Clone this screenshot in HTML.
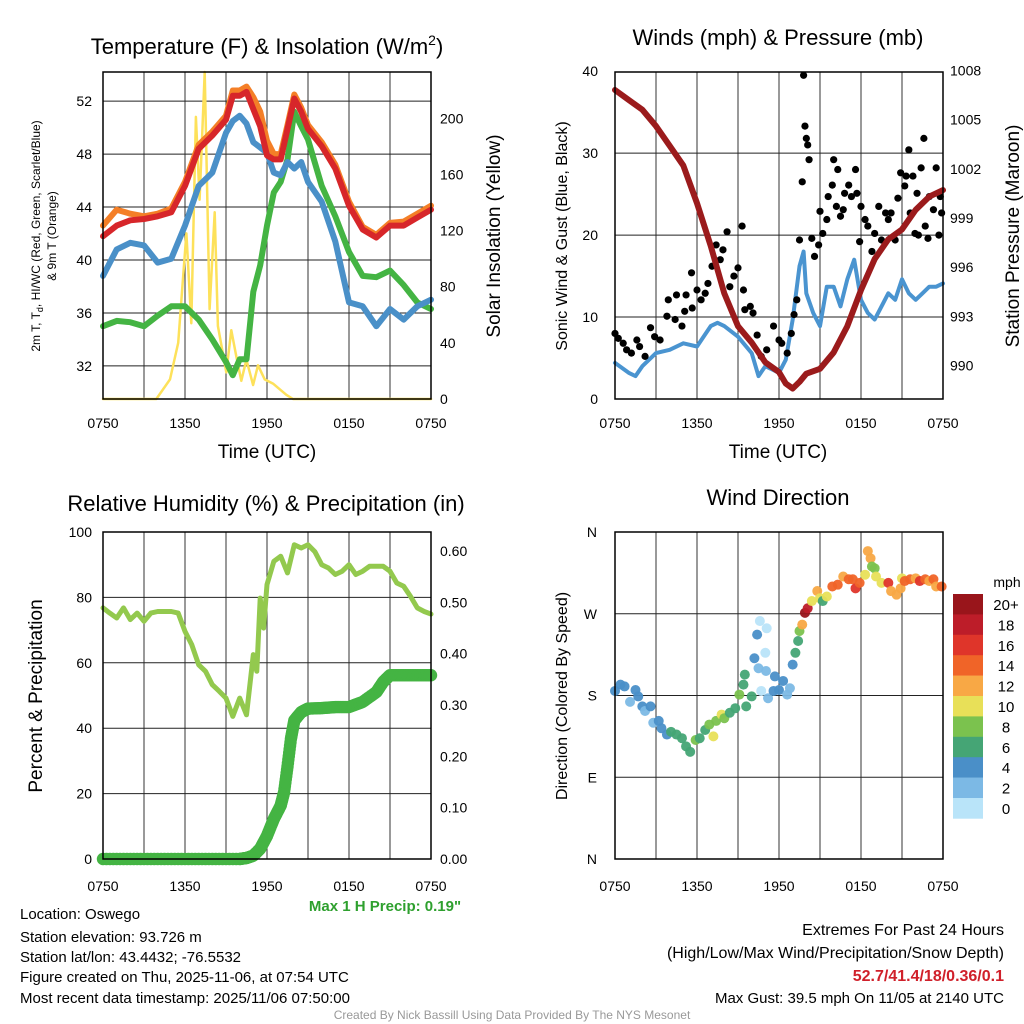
<!DOCTYPE html>
<html><head><meta charset="utf-8"><style>
html,body{margin:0;padding:0;background:#fff;}
svg{display:block;font-family:"Liberation Sans",Arial,sans-serif;}
</style></head><body>
<svg id="chart" width="1024" height="1024" viewBox="0 0 1024 1024"></svg>
<script>
// ---------- DATA ----------
const xTickLabels = ["0750","1350","1950","0150","0750"];
const tempHours = [0,1,2,3,4,5,6,7,8,9,9.5,10,10.5,11,11.5,12,12.5,13,13.5,14,14.5,15,16,17,18,19,20,21,22,23,24];
const tempRed = [41.8,42.6,43.0,43.1,43.3,43.6,45.6,48.4,49.4,50.6,52.4,52.4,52.7,51.4,50.1,47.9,47.6,47.6,49.9,52.2,51.2,49.9,48.6,46.9,44.1,42.3,41.7,42.6,42.6,43.2,43.8];
const tempOrange = [42.6,43.8,43.5,43.3,43.5,43.9,45.9,48.7,49.7,50.9,52.8,52.8,53.1,52.3,51.2,49.0,48.0,48.0,50.2,52.5,51.5,50.2,48.9,47.2,44.4,42.5,41.9,42.8,42.9,43.5,44.1];
const tempBlue = [38.8,40.8,41.3,41.1,39.8,40.1,42.6,45.6,46.6,49.6,50.5,50.9,50.3,48.9,48.5,48.1,46.6,46.4,47.4,46.9,47.4,45.9,44.4,41.4,36.8,36.5,35.0,36.3,35.5,36.5,37.0];
const tempGreen = [35.0,35.4,35.3,35.0,35.8,36.5,36.5,35.5,34.0,32.3,31.3,32.5,32.5,37.6,39.6,42.6,45.1,45.9,47.6,51.2,50.1,49.1,45.6,43.3,40.6,38.8,38.7,39.2,38.1,36.8,36.3];
const insolHours = [0,3.9,4.9,5.5,5.85,6.1,6.46,6.8,7.07,7.44,7.8,8.17,8.41,9.02,9.39,9.76,10.12,10.49,10.98,11.34,11.83,12.44,13.41,13.9,24];
const insolValues = [0,0,14,40,85,118,54,201,142,233,64,133,52,19,49,30,13,28,10,24,14,11,3,0,0];
const tempTicks = [32,36,40,44,48,52];
const insolTicks = [0,40,80,120,160,200];

const windHours = [0,1,1.5,2,3,4,5,6,7,7.5,8,9,10,10.5,11,11.5,12,12.5,13,13.5,13.8,14,14.5,15,15.5,16,16.5,17,17.5,18,18.5,19,19.5,20,20.5,21,21.5,22,22.5,23,23.5,24];
const windSpeed = [4.4,3.2,2.8,4.0,5.6,6.0,6.8,6.4,8.9,9.3,8.9,7.6,5.6,2.8,4.0,3.6,3.2,4.8,9.7,16.2,18,12.9,10.5,8.9,13.7,13.7,11.3,14.6,17,12.1,10.5,9.7,11.3,12.9,12.1,14.6,12.9,12.1,12.9,13.7,13.7,14.1];
const gustHours = [0,0.24,0.6,0.85,1.2,1.6,1.8,2.2,2.6,2.9,3.3,3.8,3.9,4.4,4.5,4.9,5.1,5.2,5.6,5.65,6.0,6.3,6.6,6.8,7.1,7.4,7.7,7.9,8.2,8.4,8.7,9.0,9.3,9.4,9.5,9.9,10.1,10.4,10.7,11.1,11.6,12.0,12.2,12.6,12.9,13.1,13.3,13.5,13.7,13.8,13.9,14.0,14.1,14.2,14.4,14.6,14.9,15.0,15.2,15.5,15.6,15.9,16.0,16.2,16.3,16.5,16.7,16.8,17.1,17.3,17.6,17.7,17.9,18.0,18.3,18.5,18.8,19.0,19.3,19.5,19.8,20.0,20.2,20.5,20.7,20.9,21.2,21.3,21.5,21.6,21.8,21.95,22.1,22.2,22.4,22.6,22.7,22.9,23.0,23.3,23.5,23.7,23.8,23.9];
const gustValues = [8.0,7.4,6.8,6.0,5.6,7.2,6.4,5.2,8.7,7.6,7.2,10.1,12.1,9.7,12.7,8.9,10.7,12.7,15.4,11.1,13.3,12.1,12.9,14.1,16.2,18.8,17,18.2,20.4,13.7,15,16,21.1,13.3,10.9,11.3,10.5,7.8,5.2,6.0,8.9,7.2,6.8,5.6,8.0,10.3,12.1,19.4,26.5,39.5,33.3,31.8,31,29.2,19.6,17.4,18.8,22.9,20.2,21.9,24.7,26.1,29.2,23.5,28,22.3,23.1,25.1,26.1,24.7,28,25.1,19.2,23.5,21.9,21.1,18,20.2,23.5,19.4,22.7,21.9,22.7,19.4,24.5,27.6,26.0,27.2,30.4,22.7,27.2,20.2,25.1,20,28.2,31.8,21.1,19.6,24.7,23.1,28.2,20,24.7,22.7];
const presHours = [0,1,2,3,4,5,6,7,8,9,10,11,12,12.5,13,13.5,14,15,16,17,18,19,20,21,22,23,24];
const presValues = [1006.8,1006.2,1005.6,1004.6,1003.4,1002.2,999.9,997.3,994.4,992.4,991.4,990.2,989.6,988.9,988.6,989.0,989.5,989.8,990.8,992.4,994.6,996.5,997.7,998.3,999.5,1000.3,1000.7];
const windTicks = [0,10,20,30,40];
const presTicks = [990,993,996,999,1002,1005,1008];

const rhHours = [0,0.5,1,1.5,2,2.5,3,3.5,4,5,5.5,6,6.5,7,7.5,8,8.5,9,9.5,10,10.5,11,11.25,11.5,11.75,12,12.5,13,13.5,14,14.5,15,15.5,16,16.5,17,17.5,18,18.5,19,19.5,20,20.5,21,21.5,22,22.5,23,23.5,24];
const rhValues = [76.8,75.2,73.7,76.8,73.2,75.2,72.7,75.2,75.7,75.7,75.2,69.6,65.5,59.4,57.4,53.3,51.3,49.2,43.6,49.2,44.1,62.5,57.4,79.8,70.6,83.9,91,92.6,87.5,96.1,95.1,96.1,94,90,89,87,88,90,87,88,89.5,89.5,89.5,88,84.4,83.4,80.3,76.8,75.7,74.9];
const precipHours = [0,2,4,6,8,10,10.5,11,11.5,12,12.5,13,13.25,13.5,13.75,14,14.5,15,16,17,18,19,20,20.5,21,22,23,24];
const precipValues = [0,0,0,0,0,0,0.002,0.0065,0.02,0.045,0.078,0.104,0.13,0.18,0.234,0.27,0.286,0.293,0.294,0.296,0.296,0.306,0.325,0.345,0.358,0.358,0.358,0.358];
const rhTicks = [0,20,40,60,80,100];
const precipTicks = ["0.00","0.10","0.20","0.30","0.40","0.50","0.60"];

const dirHours = [0,0.4,0.7,1.1,1.5,1.7,2,2.2,2.6,2.8,3.2,3.4,3.8,4.1,4.5,4.9,5.2,5.5,5.9,6.2,6.6,6.9,7.2,7.4,7.8,8,8.4,8.8,9.1,9.4,9.5,9.6,10,10.2,10.4,10.5,10.6,10.7,11,11.1,11.05,11.2,11.6,11.7,12,12.3,12.6,12.8,13,13.2,13.4,13.5,13.7,13.9,14.1,14.4,14.8,15,15.2,15.5,15.9,16.3,16.7,17.1,17.4,17.6,17.9,18.3,18.5,18.7,18.8,19,19.1,19.5,20,20.2,20.6,20.9,21,21.2,21.6,22,22.3,22.7,23,23.3,23.5,23.9];
const dirDegrees = [185,192,190,173,186,179,168,163,168,150,152,144,137,140,137,133,124,118,131,133,142,148,135,152,159,155,161,166,181,192,203,168,179,221,247,210,262,185,227,254,207,177,185,201,186,196,181,188,214,227,240,251,258,271,276,284,295,287,284,289,300,302,311,308,308,298,304,313,339,331,322,320,311,304,304,295,291,298,309,306,308,309,306,308,306,308,300,300];
const dirSpeeds = [4,4,4,2,4,4,4,2,4,2,4,4,4,6,6,6,6,6,8,6,6,8,10,8,10,8,6,6,8,6,6,6,6,4,4,2,0,0,0,0,2,2,4,4,4,4,2,2,4,6,6,8,12,20,18,10,12,10,6,10,14,14,12,14,14,16,14,10,12,12,8,8,10,10,16,12,12,12,10,14,14,12,16,14,12,14,12,14];
const dirTickLabels = ["N","E","S","W","N"];
const speedBinLabels = ["0","2","4","6","8","10","12","14","16","18","20+"];
const speedBinColors = ["#b9e4f9","#7cb9e5","#4a8fc8","#45a575","#7bc24e","#e8e058","#f8a845","#f06428","#df352a","#bd1d29","#99151b"];

// ---------- DRAWING ----------
const svg = document.getElementById('chart');
const NS = 'http://www.w3.org/2000/svg';
function mk(tag, attrs, parent) {
  const e = document.createElementNS(NS, tag);
  for (const k in attrs) e.setAttribute(k, attrs[k]);
  (parent || svg).appendChild(e);
  return e;
}
function txt(x, y, s, size, anchor, parent, extra) {
  const t = mk('text', Object.assign({x: x, y: y, 'font-size': size, 'text-anchor': anchor || 'middle', fill: '#000'}, extra || {}), parent);
  t.textContent = s;
  return t;
}
const PW = 328, PH = 327;
function panel(x0, y0) {
  return {x0: x0, y0: y0, x: h => x0 + h * PW / 24};
}
function linScale(y0, vmin, vmax) { return v => y0 + PH - (v - vmin) / (vmax - vmin) * PH; }
function drawGrid(p, yPositions, g) {
  for (let i = 1; i < 8; i++) {
    const x = p.x(i * 3);
    mk('line', {x1: x, y1: p.y0, x2: x, y2: p.y0 + PH, stroke: '#333', 'stroke-width': 1}, g);
  }
  yPositions.forEach(y => mk('line', {x1: p.x0, y1: y, x2: p.x0 + PW, y2: y, stroke: '#222', 'stroke-width': 1}, g));
}
function frame(p, g) {
  mk('rect', {x: p.x0, y: p.y0, width: PW, height: PH, fill: 'none', stroke: '#000', 'stroke-width': 1.5}, g);
}
function xLabels(p, baseY, g) {
  xTickLabels.forEach((l, i) => {
    const t = txt(p.x(i * 6), baseY, l, 14, 'middle', g);
    
    
  });
}
function pathFrom(xs, ys) { return xs.map((x, i) => (i ? 'L' : 'M') + x.toFixed(1) + ',' + ys[i].toFixed(1)).join(''); }
function line(p, hours, vals, yScale, color, width, name, g) {
  const e = mk('path', {d: pathFrom(hours.map(p.x), vals.map(yScale)), fill: 'none', stroke: color, 'stroke-width': width, 'stroke-linejoin': 'round', 'stroke-linecap': 'round'}, g);
  
  
  return e;
}
function rotLabel(x, y, s, size, g, name) {
  const t = txt(x, y, s, size, 'middle', g, {transform: 'rotate(-90 ' + x + ' ' + y + ')'});
  
  
  return t;
}

// Panel 1: temperature
(function () {
  const g = mk('g', {});
  
  
  const p = panel(103, 72);
  const yT = linScale(72, 29.5, 54.2);
  const yI = linScale(72, 0, 233);
  drawGrid(p, tempTicks.map(yT), g);
  line(p, insolHours, insolValues, yI, '#fde15a', 2.5, 'insolation-line', g);
  line(p, tempHours, tempGreen, yT, '#44b443', 6, 'dewpoint-line', g);
  line(p, tempHours, tempBlue, yT, '#4a90c8', 6, 'wetbulb-line', g);
  line(p, tempHours, tempOrange, yT, '#f47f27', 6, 'temp-9m-line', g);
  line(p, tempHours, tempRed, yT, '#d7262a', 6, 'temp-2m-line', g);
  frame(p, g);
  tempTicks.forEach(v => { const t = txt(92, yT(v) + 5, String(v), 14, 'end', g);   });
  insolTicks.forEach(v => { const t = txt(440, yI(v) + 5, String(v), 14, 'start', g);   });
  xLabels(p, 428, g);
  const ti = txt(267, 54, 'Temperature (F) & Insolation (W/m', 22, 'middle', g);
  
  
  const sup = mk('tspan', {'font-size': 14, dy: -9}, ti); sup.textContent = '2';
  const cl = mk('tspan', {dy: 9}, ti); cl.textContent = ')';
  const xt = txt(267, 458, 'Time (UTC)', 19, 'middle', g);  
  const yl = rotLabel(40, 236, '', 12, g, 'temp-y-axis-title');
  yl.innerHTML = '2m T, T<tspan font-size="9" dy="3">d</tspan><tspan dy="-3">, HI/WC (Red, Green, Scarlet/Blue)</tspan>';
  rotLabel(56, 236, '& 9m T (Orange)', 12, g, 'temp-y-axis-title-2');
  rotLabel(500, 236, 'Solar Insolation (Yellow)', 19, g, 'insolation-axis-title');
})();

// Panel 2: winds
(function () {
  const g = mk('g', {});
  
  
  const p = panel(615, 72);
  const yW = linScale(72, 0, 39.9);
  const yP = linScale(72, 987.96, 1007.9);
  drawGrid(p, windTicks.slice(1, 4).map(yW), g);
  line(p, windHours, windSpeed, yW, '#4a94d0', 4, 'sonic-wind-line', g);
  gustHours.forEach((h, i) => {
    const c = mk('circle', {cx: p.x(h), cy: yW(gustValues[i]), r: 3.6, fill: '#000'}, g);
    
    
  });
  line(p, presHours, presValues, yP, '#9b1b1c', 6, 'pressure-line', g);
  frame(p, g);
  windTicks.forEach(v => { const t = txt(598, yW(v) + 5, String(v), 14, 'end', g);   });
  presTicks.forEach(v => { const t = txt(950, yP(v) + 5, String(v), 14, 'start', g);   });
  xLabels(p, 428, g);
  const ti = txt(778, 45, 'Winds (mph) & Pressure (mb)', 22, 'middle', g);  
  const xt = txt(778, 458, 'Time (UTC)', 19, 'middle', g);  
  rotLabel(567, 236, 'Sonic Wind & Gust (Blue, Black)', 16, g, 'wind-axis-title');
  rotLabel(1019, 236, 'Station Pressure (Maroon)', 19, g, 'pressure-axis-title');
})();

// Panel 3: RH & precip
(function () {
  const g = mk('g', {});
  
  
  const p = panel(103, 532);
  const yR = linScale(532, 0, 100);
  const yPr = linScale(532, 0, 0.637);
  drawGrid(p, rhTicks.slice(1, 5).map(yR), g);
  line(p, rhHours, rhValues, yR, '#93c94e', 5, 'rh-line', g);
  const pg = mk('g', {fill: '#44b443'}, g);
  
  
  for (let i = 0; i < precipHours.length - 1; i++) {
    const n = 8;
    for (let k = 0; k < n; k++) {
      const f = k / n;
      const h = precipHours[i] + (precipHours[i + 1] - precipHours[i]) * f;
      const v = precipValues[i] + (precipValues[i + 1] - precipValues[i]) * f;
      const c = mk('circle', {cx: p.x(h), cy: yPr(v), r: 6.2}, pg);
      
      
    }
  }
  const last = precipHours.length - 1;
  const lc = mk('circle', {cx: p.x(precipHours[last]), cy: yPr(precipValues[last]), r: 6.2}, pg);
  
  
  frame(p, g);
  rhTicks.forEach(v => { const t = txt(92, yR(v) + 5, String(v), 14, 'end', g);   });
  precipTicks.forEach(v => { const t = txt(440, yPr(parseFloat(v)) + 5, v, 14, 'start', g);   });
  xLabels(p, 891, g);
  const ti = txt(266, 511, 'Relative Humidity (%) & Precipitation (in)', 22, 'middle', g);  
  rotLabel(42, 696, 'Percent & Precipitation', 19, g, 'rh-axis-title');
  const mp = txt(385, 911, 'Max 1 H Precip: 0.19"', 15, 'middle', g, {fill: '#2ea02e', 'font-weight': 'bold'});  
})();

// Panel 4: wind direction
(function () {
  const g = mk('g', {});
  
  
  const p = panel(615, 532);
  const yD = linScale(532, 0, 360);
  drawGrid(p, [90, 180, 270].map(yD), g);
  dirHours.forEach((h, i) => {
    const bin = Math.max(0, Math.min(10, Math.floor(dirSpeeds[i] / 2)));
    const c = mk('circle', {cx: p.x(h), cy: yD(dirDegrees[i]), r: 5, fill: speedBinColors[bin], 'fill-opacity': 0.95}, g);
    
    
  });
  frame(p, g);
  dirTickLabels.forEach((l, i) => { const t = txt(597, yD(i * 90) + 5, l, 14, 'end', g);   });
  xLabels(p, 891, g);
  const ti = txt(778, 505, 'Wind Direction', 22, 'middle', g);  
  rotLabel(567, 696, 'Direction (Colored By Speed)', 16, g, 'direction-axis-title');
  const cb = mk('g', {}, g);
  
  
  const bh = 20.4;
  for (let i = 0; i < 11; i++) {
    const idx = 10 - i;
    const r = mk('rect', {x: 953, y: 594 + i * bh, width: 30, height: bh + 0.3, fill: speedBinColors[idx]}, cb);
    
    
    const t = txt(1006, 594 + i * bh + 16, speedBinLabels[idx], 15, 'middle', cb);
    
    
  }
  const u = txt(1007, 587, 'mph', 14, 'middle', cb);  
})();

// Footer
(function () {
  const g = mk('g', {});
  
  
  const left = ['Location: Oswego', 'Station elevation: 93.726 m', 'Station lat/lon: 43.4432; -76.5532', 'Figure created on Thu, 2025-11-06, at 07:54 UTC', 'Most recent data timestamp: 2025/11/06 07:50:00'];
  const ly = [919, 942, 962, 982, 1003];
  left.forEach((s, i) => { const t = txt(20, ly[i], s, 15, 'start', g);   });
  const r1 = txt(1004, 935, 'Extremes For Past 24 Hours', 16, 'end', g);  
  const r2 = txt(1004, 958, '(High/Low/Max Wind/Precipitation/Snow Depth)', 16, 'end', g);  
  const r3 = txt(1004, 981, '52.7/41.4/18/0.36/0.1', 16, 'end', g, {fill: '#d0202a', 'font-weight': 'bold'});  
  const r4 = txt(1004, 1003, 'Max Gust: 39.5 mph On 11/05 at 2140 UTC', 15, 'end', g);  
  const cr = txt(512, 1019, 'Created By Nick Bassill Using Data Provided By The NYS Mesonet', 12, 'middle', g, {fill: '#999'});  
})();
</script>
</body></html>
